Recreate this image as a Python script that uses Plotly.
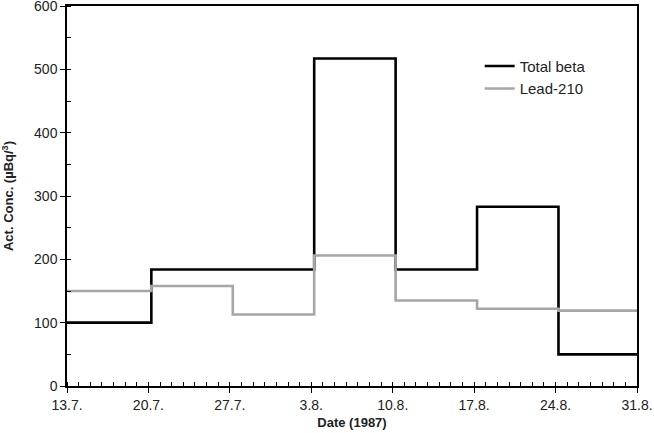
import plotly.graph_objects as go

# Sampling period boundaries (start of each period, plus final end)
period_bounds = ["1987-07-13 00:00", "1987-07-20 06:00", "1987-07-27 06:00", "1987-08-03 06:00",
                 "1987-08-10 06:00", "1987-08-17 06:00", "1987-08-24 06:00", "1987-08-31 00:00"]
total_beta = [100, 184, 184, 517, 184, 283, 50]
lead_210 = [150, 158, 113, 206, 135, 122, 119]

tick_vals = ["1987-07-13", "1987-07-20", "1987-07-27", "1987-08-03",
             "1987-08-10", "1987-08-17", "1987-08-24", "1987-08-31"]
tick_text = ["13.7.", "20.7.", "27.7.", "3.8.", "10.8.", "17.8.", "24.8.", "31.8."]

fig = go.Figure()
fig.add_trace(go.Scatter(x=period_bounds, y=total_beta + [total_beta[-1]], mode="lines",
                         line=dict(color="#000000", width=2.6, shape="hv"), name="Total beta"))
fig.add_trace(go.Scatter(x=period_bounds, y=lead_210 + [lead_210[-1]], mode="lines",
                         line=dict(color="#a6a6a6", width=2.6, shape="hv"), name="Lead-210"))

font = "Liberation Sans, Arial, sans-serif"
fig.update_layout(
    width=654, height=433,
    margin=dict(l=67, r=17, t=6, b=47),
    paper_bgcolor="white", plot_bgcolor="white",
    font=dict(family=font, size=14, color="#222222"),
    showlegend=True,
    legend=dict(x=0.724, y=0.885, xanchor="left", yanchor="top", bgcolor="rgba(0,0,0,0)",
                font=dict(size=15, color="#222222"), tracegroupgap=0),
    xaxis=dict(
        type="date", range=["1987-07-13", "1987-08-31"],
        tickvals=tick_vals, ticktext=tick_text, automargin=False,
        ticklabeloverflow="allow",
        ticks="outside", ticklen=5, tickwidth=1.2, tickcolor="black",
        tickfont=dict(size=14, color="#222222"),
        minor=dict(dtick=86400000, ticks="inside", ticklen=4, tickwidth=1.2, tickcolor="black",
                   showgrid=False),
        showline=True, linecolor="black", linewidth=1.5, mirror=True,
        showgrid=False, zeroline=False,
        title=dict(text="<b>Date (1987)</b>", font=dict(size=13, color="#222222"), standoff=6),
    ),
    yaxis=dict(
        range=[0, 600], dtick=100, automargin=False,
        ticklabeloverflow="allow",
        ticks="outside", ticklen=5, tickwidth=1.2, tickcolor="black",
        tickfont=dict(size=14, color="#222222"),
        minor=dict(dtick=50, ticks="inside", ticklen=4, tickwidth=1.2, tickcolor="black",
                   showgrid=False),
        showline=True, linecolor="black", linewidth=1.5, mirror=True,
        showgrid=False, zeroline=False,
        title=dict(text="<b>Act. Conc. (µBq/<sup>3</sup>)</b>", font=dict(size=13, color="#222222"),
                   standoff=20),
    ),
)

fig.write_html("out.html", config={"displayModeBar": False},
               post_script="document.body.style.margin='0';document.body.style.overflow='hidden';")
